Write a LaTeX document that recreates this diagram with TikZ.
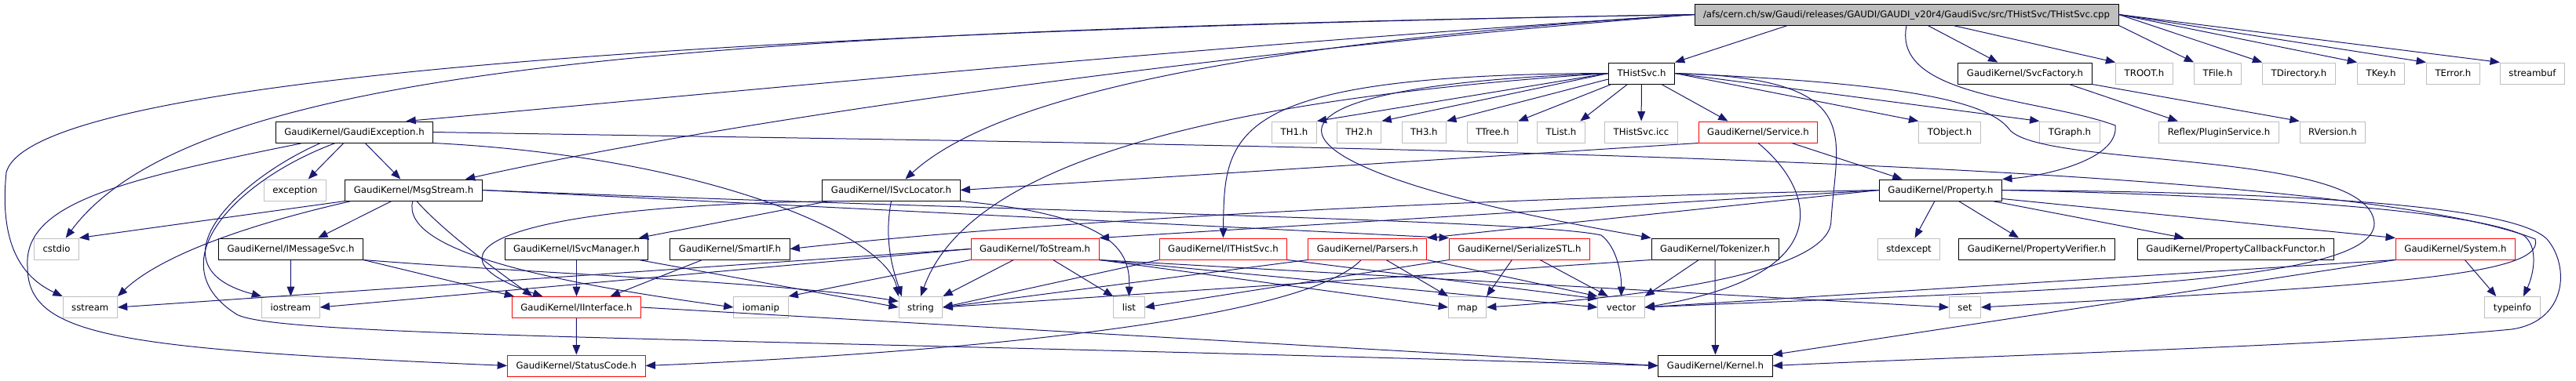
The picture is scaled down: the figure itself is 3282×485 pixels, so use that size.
\documentclass[tikz,border=0pt]{standalone}
\usepackage{fontspec}
\setmainfont{DejaVu Sans}
\usepackage{tikz}
\usetikzlibrary{arrows.meta, calc}
\definecolor{cEdge}{RGB}{25,25,112}
\definecolor{cGrey}{RGB}{191,191,191}
\tikzset{
	hdr/.style     ={rectangle, draw=black, line width=0.3mm, minimum height=8.1mm, inner xsep=3.3mm, inner ysep=0pt, text height=1.8ex, text depth=0.5ex, font=\fontsize{10}{12}\selectfont},
	hdrsys/.style  ={hdr, draw=cGrey},
	hdrtrunc/.style={hdr, draw=red},
	hdrroot/.style ={hdr, fill=cGrey},
	inc/.style     ={-{Triangle[length=3.7mm, width=2.9mm]}, draw=cEdge, line width=0.3mm},
}

\begin{document}
\begin{tikzpicture}[x=0.3mm, y=0.3mm]
	\useasboundingbox (0,0) rectangle (3282,-485);
	% row 1 and 2
	\node[hdrroot] (root) at (2429,-18.5) {/afs/cern.ch/sw/Gaudi/releases/GAUDI/GAUDI\_v20r4/GaudiSvc/src/THistSvc/THistSvc.cpp};
	\node[hdr] (thsh) at (2091.5,-93.5) {THistSvc.h};
	\node[hdr] (svcfac) at (2580,-93.5) {GaudiKernel/SvcFactory.h};
	\node[hdrsys] (troot) at (2732,-93.5) {TROOT.h};
	\node[hdrsys] (tfile) at (2825.6,-93.5) {TFile.h};
	\node[hdrsys] (tdir) at (2929,-93.5) {TDirectory.h};
	\node[hdrsys] (tkey) at (3033.5,-93.5) {TKey.h};
	\node[hdrsys] (terror) at (3125.4,-93.5) {TError.h};
	\node[hdrsys] (sbuf) at (3226.4,-93.5) {streambuf};
	% row 3
	\node[hdr] (gexc) at (451.5,-168.5) {GaudiKernel/GaudiException.h};
	\node[hdrsys] (th1) at (1649,-168.5) {TH1.h};
	\node[hdrsys] (th2) at (1731.6,-168.5) {TH2.h};
	\node[hdrsys] (th3) at (1814.3,-168.5) {TH3.h};
	\node[hdrsys] (ttree) at (1901.6,-168.5) {TTree.h};
	\node[hdrsys] (tlist) at (1989,-168.5) {TList.h};
	\node[hdrsys] (thsicc) at (2091,-168.5) {THistSvc.icc};
	\node[hdrtrunc] (service) at (2240,-168.5) {GaudiKernel/Service.h};
	\node[hdrsys] (tobject) at (2484,-168.5) {TObject.h};
	\node[hdrsys] (tgraph) at (2637,-168.5) {TGraph.h};
	\node[hdrsys] (reflex) at (2827,-168.5) {Reflex/PluginService.h};
	\node[hdrsys] (rversion) at (2972,-168.5) {RVersion.h};
	% row 4
	\node[hdrsys] (excp) at (376,-242.5) {exception};
	\node[hdr] (msgs) at (527,-242.5) {GaudiKernel/MsgStream.h};
	\node[hdr] (isvcloc) at (1135.5,-242.5) {GaudiKernel/ISvcLocator.h};
	\node[hdr] (prop) at (2472.5,-242.5) {GaudiKernel/Property.h};
	% row 5
	\node[hdrsys] (cstdio) at (72,-317.5) {cstdio};
	\node[hdr] (imsgsvc) at (370.5,-317.5) {GaudiKernel/IMessageSvc.h};
	\node[hdr] (isvcmgr) at (734.5,-317.5) {GaudiKernel/ISvcManager.h};
	\node[hdr] (smartif) at (930,-317.5) {GaudiKernel/SmartIF.h};
	\node[hdrtrunc] (tostream) at (1318.6,-317.5) {GaudiKernel/ToStream.h};
	\node[hdrtrunc] (ithsvc) at (1558.4,-317.5) {GaudiKernel/ITHistSvc.h};
	\node[hdrtrunc] (parsers) at (1742.3,-317.5) {GaudiKernel/Parsers.h};
	\node[hdrtrunc] (serstl) at (1936,-317.5) {GaudiKernel/SerializeSTL.h};
	\node[hdr] (tokenizer) at (2185,-317.5) {GaudiKernel/Tokenizer.h};
	\node[hdrsys] (stdexc) at (2432,-317.5) {stdexcept};
	\node[hdr] (propver) at (2595,-317.5) {GaudiKernel/PropertyVerifier.h};
	\node[hdr] (propcb) at (2848.5,-317.5) {GaudiKernel/PropertyCallbackFunctor.h};
	\node[hdrtrunc] (system) at (3128.4,-317.5) {GaudiKernel/System.h};
	% row 6
	\node[hdrsys] (sstream) at (114.8,-392) {sstream};
	\node[hdrsys] (iostream) at (370.4,-392) {iostream};
	\node[hdrtrunc] (iinterface) at (734.5,-392) {GaudiKernel/IInterface.h};
	\node[hdrsys] (iomanip) at (969.5,-392) {iomanip};
	\node[hdrsys] (stdstring) at (1173,-392) {string};
	\node[hdrsys] (stdlist) at (1438.4,-392) {list};
	\node[hdrsys] (stdmap) at (1869.5,-392) {map};
	\node[hdrsys] (stdvector) at (2065.5,-392) {vector};
	\node[hdrsys] (stdset) at (2503.4,-392) {set};
	\node[hdrsys] (typeinfo) at (3201,-392) {typeinfo};
	% row 7
	\node[hdrtrunc] (statcode) at (734.3,-466.5) {GaudiKernel/StatusCode.h};
	\node[hdr] (kernel) at (2185.5,-466.5) {GaudiKernel/Kernel.h};

	% THistSvc.cpp
	\draw[inc] ($(root.south west)!.22!(root.south east)$) -- (thsh.north east);
	\draw[inc] ($(root.south west)!.55!(root.south east)$) -- (svcfac.158);
	\draw[inc] ($(root.south west)!.61!(root.south east)$) -- (troot.north west);
	\draw[inc] (root.south east) -- (tfile.north west);
	\draw[inc] (root.east) -- (tdir.north west);
	\draw[inc] (root.east) -- (tkey.north west);
	\draw[inc] (root.east) -- (terror.north west);
	\draw[inc] (root.east) -- (sbuf.north west);
	\draw[inc] (root.west) .. controls (1500,-60) and (800,-130) .. (gexc.12);
	\draw[inc] (root.west) .. controls (1500,-70) and (900,-160) .. (msgs.12);
	\draw[inc] (root.west) .. controls (1500,-60) and (1250,-140) .. (isvcloc.38);
	\draw[inc] (root.west) .. controls (900,-40) and (250,-80) .. (cstdio.50);
	\draw[inc] (root.west) .. controls (900,-40) and (40,-100) .. (8,-220) .. controls (0,-300) and (20,-350) .. (sstream.north west);
	\draw[inc] (root.south) .. controls (2410,-125) and (2600,-125) .. (2695,-160) .. controls (2700,-205) and (2600,-225) .. (prop.north east);

	% THistSvc.h
	\draw[inc] (thsh.west) -- (th1.north east);
	\draw[inc] (thsh.west) -- (th2.north east);
	\draw[inc] (thsh.190) -- (th3.north east);
	\draw[inc] (thsh.200) -- (ttree.north east);
	\draw[inc] (thsh) -- (tlist.30);
	\draw[inc] (thsh) -- (thsicc);
	\draw[inc] (thsh) -- (service.160);
	\draw[inc] (thsh.east) -- (tobject.north west);
	\draw[inc] (thsh.east) -- (tgraph.north west);
	\draw[inc] (thsh.west) .. controls (1560,-95) and (1560,-170) .. (ithsvc.north);
	\draw[inc] (thsh.west) .. controls (1500,-130) and (1230,-220) .. (stdstring.north);
	\draw[inc] (thsh.west) .. controls (1550,-110) and (1560,-210) .. (tokenizer.north west);
	\draw[inc] (thsh.east) .. controls (2380,-100) and (2340,-170) .. (2333,-280) .. controls (2335,-340) and (2150,-375) .. (stdmap.east);
	\draw[inc] (thsh.east) .. controls (2400,-105) and (2530,-125) .. (2560,-165) .. controls (2600,-215) and (3020,-190) .. (3025,-285) .. controls (3025,-365) and (2600,-370) .. (stdvector.east);

	% SvcFactory.h
	\draw[inc] (svcfac.-14) -- (reflex.165);
	\draw[inc] (svcfac.south east) -- (rversion.north west);

	% GaudiException.h
	\draw[inc] (gexc) -- (excp.40);
	\draw[inc] (gexc) -- (msgs.140);
	\draw[inc] (gexc.south east) .. controls (900,-200) and (1130,-300) .. (stdstring.north west);
	\draw[inc] (gexc.198) .. controls (300,-230) and (190,-340) .. (iostream.north west);
	\draw[inc] (gexc.210) .. controls (300,-230) and (200,-335) .. (300,-400) .. controls (340,-430) and (900,-430) .. (kernel.west);
	\draw[inc] (gexc.192) .. controls (150,-230) and (30,-260) .. (35,-340) .. controls (35,-430) and (150,-445) .. (statcode.west);
	\draw[inc] (gexc.east) .. controls (1500,-185) and (2950,-195) .. (3230,-305) .. controls (3245,-355) and (3000,-365) .. (stdset.east);

	% MsgStream.h
	\draw[inc] (msgs.south west) -- (cstdio.north east);
	\draw[inc] (msgs.190) .. controls (300,-290) and (200,-330) .. (sstream.north east);
	\draw[inc] (msgs) -- (imsgsvc.22);
	\draw[inc] (msgs.-75) .. controls (570,-300) and (640,-350) .. (iinterface.166);
	\draw[inc] (msgs.-95) .. controls (510,-320) and (700,-360) .. (iomanip.west);
	\draw[inc] (msgs.east) -- (serstl.north west);
	\draw[inc] (msgs.east) .. controls (1300,-270) and (1950,-280) .. (2040,-300) .. controls (2060,-315) and (2066,-350) .. (stdvector.north);

	% ISvcLocator.h, Service.h
	\draw[inc] (isvcloc.190) -- (isvcmgr.10);
	\draw[inc] (isvcloc.195) .. controls (650,-260) and (520,-320) .. (iinterface.162);
	\draw[inc] (isvcloc.south) .. controls (1125,-310) and (1140,-350) .. (stdstring.150);
	\draw[inc] (isvcloc.south east) .. controls (1420,-275) and (1440,-320) .. (stdlist.north);
	\draw[inc] (service.south west) -- (isvcloc.east);
	\draw[inc] (service) -- (prop.164);
	\draw[inc] (service.south) .. controls (2310,-240) and (2350,-350) .. (stdvector.east);

	% interfaces
	\draw[inc] (isvcmgr) -- (iinterface);
	\draw[inc] (isvcmgr.-10) -- (stdstring.west);
	\draw[inc] (smartif) -- (iinterface.18);
	\draw[inc] (imsgsvc) -- (iostream);
	\draw[inc] (imsgsvc.south east) -- (iinterface.170);
	\draw[inc] (imsgsvc.south east) .. controls (700,-350) and (1000,-360) .. (stdstring.165);
	\draw[inc] (iinterface) -- (statcode);
	\draw[inc] (iinterface.east) -- (kernel.west);

	% ToStream.h
	\draw[inc] (tostream.west) -- (sstream.east);
	\draw[inc] (tostream.west) -- (iostream.east);
	\draw[inc] (tostream.south west) -- (iomanip.north east);
	\draw[inc] (tostream) -- (stdstring.north east);
	\draw[inc] (tostream) -- (stdlist.north west);
	\draw[inc] (tostream.south east) -- (stdmap.west);
	\draw[inc] (tostream.south east) -- (stdvector.west);
	\draw[inc] (tostream.south east) -- (stdset.west);

	% ITHistSvc.h, Parsers.h, SerializeSTL.h, Tokenizer.h
	\draw[inc] (ithsvc.south west) -- (stdstring.east);
	\draw[inc] (ithsvc.south east) -- (stdvector.160);
	\draw[inc] (parsers) -- (stdmap.north west);
	\draw[inc] (parsers.south east) -- (stdvector.north west);
	\draw[inc] (parsers.south west) -- (stdstring.east);
	\draw[inc] (parsers.-120) .. controls (1650,-420) and (1100,-455) .. (statcode.east);
	\draw[inc] (serstl) -- (stdmap.north east);
	\draw[inc] (serstl) -- (stdvector.140);
	\draw[inc] (serstl.south west) -- (stdlist.east);
	\draw[inc] (tokenizer) -- (kernel);
	\draw[inc] (tokenizer) -- (stdvector.north east);
	\draw[inc] (tokenizer.south west) -- (stdstring.east);

	% Property.h
	\draw[inc] (prop) -- (stdexc);
	\draw[inc] (prop) -- (propver);
	\draw[inc] (prop.-12) -- (propcb.168);
	\draw[inc] (prop.-8) -- (system.north west);
	\draw[inc] (prop.west) -- (tostream.north east);
	\draw[inc] (prop.west) -- (parsers.north east);
	\draw[inc] (prop.west) .. controls (1800,-255) and (1300,-285) .. (smartif.east);
	\draw[inc] (prop.east) .. controls (2900,-250) and (3150,-270) .. (3215,-300) .. controls (3235,-315) and (3228,-350) .. (typeinfo.45);
	\draw[inc] (prop.east) .. controls (2900,-245) and (3200,-260) .. (3245,-305) .. controls (3275,-340) and (3270,-410) .. (3200,-420) .. controls (3000,-440) and (2500,-455) .. (kernel.east);

	% System.h
	\draw[inc] (system) -- (typeinfo.146);
	\draw[inc] (system.south west) -- (kernel.north east);
	\draw[inc] (system.south west) -- (stdvector.east);
\end{tikzpicture}
\end{document}
